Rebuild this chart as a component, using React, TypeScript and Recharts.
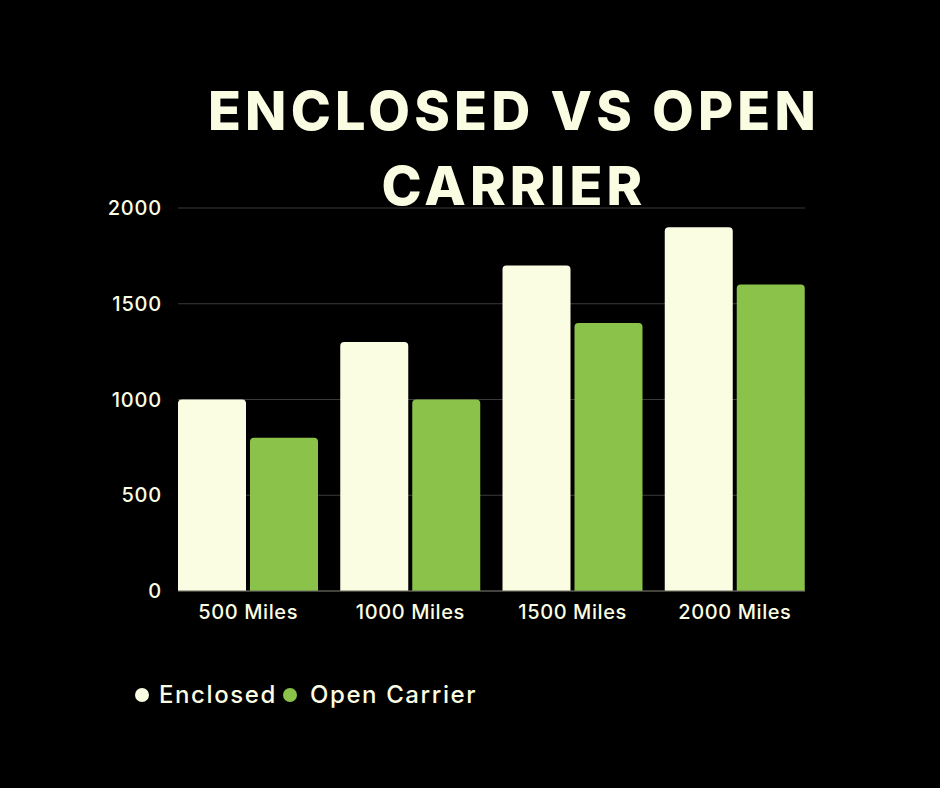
import { BarChart, Bar, XAxis, YAxis, CartesianGrid, Legend } from 'recharts';

const categories = ['500 Miles', '1000 Miles', '1500 Miles', '2000 Miles'];
const enclosed = [1000, 1300, 1700, 1900];
const openCarrier = [800, 1000, 1400, 1600];
const yTicks = [0, 500, 1000, 1500, 2000];

const CREAM = '#fbfde2';
const GREEN = '#8bc34a';
const FONT = 'Inter, "Open Sans", sans-serif';

const data = categories.map((name, i) => ({
  name,
  enclosed: enclosed[i],
  open: openCarrier[i],
}));

function LegendRow() {
  const items = [
    { label: 'Enclosed', color: CREAM, gap: 10 },
    { label: 'Open Carrier', color: GREEN, gap: 13 },
  ];
  return (
    <div
      style={{
        display: 'flex',
        alignItems: 'center',
        fontFamily: FONT,
        fontSize: 24,
        letterSpacing: 1.6,
        color: CREAM,
        fontWeight: 500,
      }}
    >
      {items.map((it) => (
        <div key={it.label} style={{ display: 'flex', alignItems: 'center', marginRight: 6 }}>
          <span
            style={{
              width: 14,
              height: 14,
              borderRadius: '50%',
              background: it.color,
              display: 'inline-block',
              marginRight: it.gap,
            }}
          />
          <span>{it.label}</span>
        </div>
      ))}
    </div>
  );
}

export default function App() {
  return (
    <div style={{ position: 'absolute', left: 0, top: 0, width: 940, height: 788, background: '#000', overflow: 'hidden' }}>
      <BarChart
        width={940}
        height={788}
        data={data}
        margin={{ top: 208, right: 135, left: 0, bottom: 167 }}
        barCategoryGap={11}
        barGap={4}
      >
        <CartesianGrid vertical={false} stroke="#3b3b3b" strokeWidth={1} />
        <XAxis
          dataKey="name"
          padding={{ left: -11, right: -11 }}
          axisLine={{ stroke: '#6b6b5e' }}
          tickLine={false}
          tick={{ fill: CREAM, fontSize: 20, fontFamily: FONT, fontWeight: 500, letterSpacing: 0.6 }}
          tickMargin={8}
          height={30}
        />
        <YAxis
          width={178}
          domain={[0, 2000]}
          ticks={yTicks}
          axisLine={false}
          tickLine={false}
          tickSize={6}
          tickMargin={10}
          tick={{ fill: CREAM, fontSize: 20, fontFamily: FONT, fontWeight: 500, letterSpacing: 0.8 }}
        />
        <Legend
          layout="horizontal"
          verticalAlign="middle"
          align="center"
          wrapperStyle={{ left: 135, top: 680, width: 440 }}
          content={() => <LegendRow />}
        />
        <Bar dataKey="enclosed" name="Enclosed" fill={CREAM} radius={[4, 4, 0, 0]} isAnimationActive={false} />
        <Bar dataKey="open" name="Open Carrier" fill={GREEN} radius={[4, 4, 0, 0]} isAnimationActive={false} />
      </BarChart>
      <div
        style={{
          position: 'absolute',
          left: 4,
          top: 73,
          width: 1020,
          textAlign: 'center',
          fontFamily: FONT,
          fontWeight: 800,
          fontSize: 54,
          lineHeight: '75px',
          letterSpacing: 4.2,
          color: CREAM,
          pointerEvents: 'none',
        }}
      >
        ENCLOSED VS OPEN
        <br />
        CARRIER
      </div>
    </div>
  );
}
